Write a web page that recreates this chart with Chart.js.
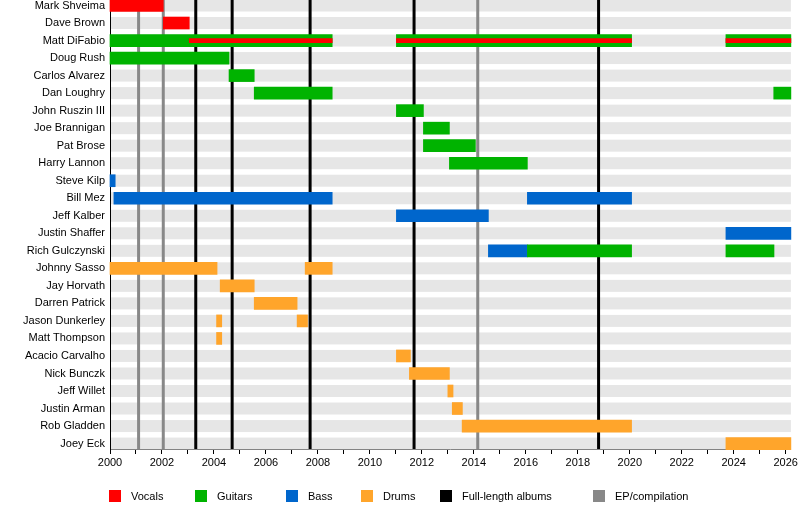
<!DOCTYPE html>
<html>
<head>
<meta charset="utf-8">
<script src="https://cdn.jsdelivr.net/npm/chart.js@4"></script>
<style>
  html, body { margin: 0; padding: 0; background: #fff; }
  #wrap { width: 800px; height: 508px; }
</style>
</head>
<body>
<div id="wrap"><canvas id="chart"></canvas></div>
<script>
// members, top to bottom
const members = ['Mark Shveima', 'Dave Brown', 'Matt DiFabio', 'Doug Rush', 'Carlos Alvarez', 'Dan Loughry',
    'John Ruszin III', 'Joe Brannigan', 'Pat Brose', 'Harry Lannon', 'Steve Kilp', 'Bill Mez', 'Jeff Kalber',
    'Justin Shaffer', 'Rich Gulczynski', 'Johnny Sasso', 'Jay Horvath', 'Darren Patrick', 'Jason Dunkerley',
    'Matt Thompson', 'Acacio Carvalho', 'Nick Bunczk', 'Jeff Willet', 'Justin Arman', 'Rob Gladden', 'Joey Eck'];

const END = 2026.2;

// stints: [member, start, end]
const vocals = [
    ['Mark Shveima', 2000, 2002.05],
    ['Dave Brown', 2002.05, 2003.05]
];
const vocalsStripe = [
    ['Matt DiFabio', 2003.05, 2008.55],
    ['Matt DiFabio', 2011.02, 2020.07],
    ['Matt DiFabio', 2023.7, END]
];
const guitars = [
    ['Matt DiFabio', 2000, 2008.55],
    ['Matt DiFabio', 2011.02, 2020.07],
    ['Matt DiFabio', 2023.7, END],
    ['Doug Rush', 2000, 2004.58],
    ['Carlos Alvarez', 2004.58, 2005.55],
    ['Dan Loughry', 2005.55, 2008.55],
    ['Dan Loughry', 2025.54, END],
    ['John Ruszin III', 2011.02, 2012.06],
    ['Joe Brannigan', 2012.06, 2013.06],
    ['Pat Brose', 2012.06, 2014.06],
    ['Harry Lannon', 2013.06, 2016.06],
    ['Rich Gulczynski', 2016.06, 2020.07],
    ['Rich Gulczynski', 2023.7, 2025.55]
];
const bass = [
    ['Steve Kilp', 2000, 2000.2],
    ['Bill Mez', 2000.15, 2008.55],
    ['Bill Mez', 2016.06, 2020.07],
    ['Jeff Kalber', 2011.02, 2014.56],
    ['Justin Shaffer', 2023.7, END],
    ['Rich Gulczynski', 2014.56, 2016.06]
];
const drums = [
    ['Johnny Sasso', 2000, 2004.12],
    ['Johnny Sasso', 2007.51, 2008.55],
    ['Jay Horvath', 2004.24, 2005.55],
    ['Darren Patrick', 2005.55, 2007.2],
    ['Jason Dunkerley', 2004.1, 2004.3],
    ['Jason Dunkerley', 2007.2, 2007.6],
    ['Matt Thompson', 2004.1, 2004.3],
    ['Acacio Carvalho', 2011.02, 2011.56],
    ['Nick Bunczk', 2011.52, 2013.06],
    ['Jeff Willet', 2013.0, 2013.2],
    ['Justin Arman', 2013.17, 2013.56],
    ['Rob Gladden', 2013.55, 2020.07],
    ['Joey Eck', 2023.7, END]
];

// release dates
const albums = [2003.3, 2004.7, 2007.7, 2011.7, 2018.8];
const eps = [2001.1, 2002.05, 2014.15];

const COLORS = { vocals: '#ff0000', guitars: '#00b300', bass: '#0066cc', drums: '#ffa52b', album: '#000000', ep: '#888888' };
const FONT = '11px "Liberation Sans", Arial, sans-serif';

const toPoints = list => list.map(([m, s, e]) => ({ y: members.indexOf(m), x: [s, e] }));

const bandsAndLines = {
    id: 'bandsAndLines',
    beforeDatasetsDraw(chart) {
        const { ctx, chartArea, scales: { x, y } } = chart;
        ctx.save();
        ctx.fillStyle = '#e6e6e6';
        members.forEach((m, i) => {
            const py = y.getPixelForValue(i);
            ctx.fillRect(chartArea.left + 1, py - 6, chartArea.right - chartArea.left - 1, 12);
        });
        // member names (y-axis labels)
        ctx.fillStyle = '#000';
        ctx.font = FONT;
        ctx.textAlign = 'right';
        ctx.textBaseline = 'middle';
        members.forEach((m, i) => ctx.fillText(m, chartArea.left - 5, y.getPixelForValue(i)));
        ctx.lineWidth = 3;
        const top = y.getPixelForValue(0) - 6;
        const line = (v, c) => {
            const px = x.getPixelForValue(v);
            ctx.strokeStyle = c;
            ctx.beginPath();
            ctx.moveTo(px, top);
            ctx.lineTo(px, chartArea.bottom);
            ctx.stroke();
        };
        eps.forEach(v => line(v, COLORS.ep));
        albums.forEach(v => line(v, COLORS.album));
        // left axis line on top of the bands
        ctx.lineWidth = 1;
        ctx.strokeStyle = '#000';
        ctx.beginPath();
        ctx.moveTo(chartArea.left + 0.5, top);
        ctx.lineTo(chartArea.left + 0.5, chartArea.bottom);
        ctx.stroke();
        ctx.restore();
    }
};

const legendItems = [
    ['Vocals', COLORS.vocals, 109], ['Guitars', COLORS.guitars, 195], ['Bass', COLORS.bass, 286],
    ['Drums', COLORS.drums, 361], ['Full-length albums', COLORS.album, 440], ['EP/compilation', COLORS.ep, 593]
];
const legendPlugin = {
    id: 'legendPlugin',
    afterDraw(chart) {
        const ctx = chart.ctx;
        ctx.save();
        ctx.font = FONT;
        ctx.textBaseline = 'middle';
        legendItems.forEach(([label, color, lx]) => {
            ctx.fillStyle = color;
            ctx.fillRect(lx, 490, 12, 12);
            ctx.fillStyle = '#000';
            ctx.fillText(label, lx + 22, 497);
        });
        ctx.restore();
    }
};

const barSet = (label, list, color, thick, order) => ({
    label, data: toPoints(list), backgroundColor: color, barThickness: thick,
    borderSkipped: false, grouped: false, order, clip: false
});

new Chart(document.getElementById('chart'), {
    type: 'bar',
    data: {
        datasets: [
            barSet('Vocals', vocals, COLORS.vocals, 12, 1),
            barSet('Guitars', guitars, COLORS.guitars, 12, 1),
            barSet('Bass', bass, COLORS.bass, 12, 1),
            barSet('Drums', drums, COLORS.drums, 12, 1),
            barSet('Vocals (stripe)', vocalsStripe, COLORS.vocals, 4, 0)
        ]
    },
    options: {
        indexAxis: 'y',
        responsive: true,
        maintainAspectRatio: false,
        animation: false,
        layout: { padding: { top: 0, right: 9, left: 0, bottom: 0 } },
        plugins: { legend: { display: false }, tooltip: { enabled: false } },
        scales: {
            x: {
                type: 'linear', min: 2000, max: END,
                afterBuildTicks: s => { s.ticks = []; for (let v = 2000; v <= 2026; v++) s.ticks.push({ value: v }); },
                afterFit: s => { s.height = 59; },
                ticks: {
                    autoSkip: false, maxRotation: 0, color: '#000', padding: 2,
                    font: { family: '"Liberation Sans", Arial, sans-serif', size: 11 },
                    callback: v => (v % 2 === 0 ? String(v) : '')
                },
                grid: { drawOnChartArea: false, drawTicks: true, tickLength: 5, color: '#000' },
                border: { color: '#000', width: 1 }
            },
            y: {
                type: 'linear', reverse: true, offset: false, min: -0.314, max: 25.31,
                afterFit: s => { s.width = 110; },
                ticks: { display: false },
                grid: { display: false },
                border: { display: false }
            }
        }
    },
    plugins: [bandsAndLines, legendPlugin]
});
</script>
</body>
</html>
